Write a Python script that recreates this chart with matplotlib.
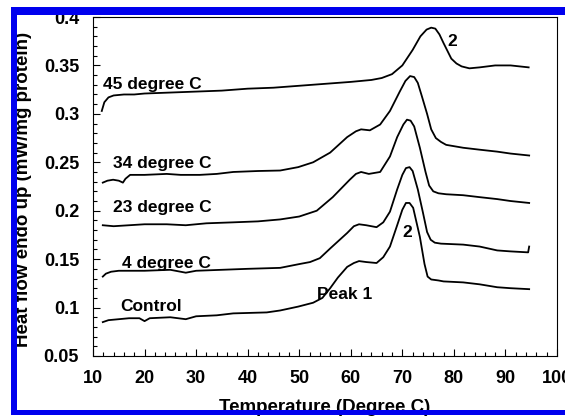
import matplotlib
matplotlib.use("Agg")
import matplotlib.pyplot as plt
from matplotlib.patches import Rectangle
from matplotlib.ticker import MultipleLocator

plt.rcParams['font.family'] = ['Liberation Sans', 'DejaVu Sans']
plt.rcParams['font.weight'] = 'bold'

# ---- data ----
x_45 = [11.7, 12.2, 13.0, 14.0, 16.0, 18.0, 20.0, 25.0, 30.0, 35.0, 40.0, 45.0, 50.0, 55.0, 60.0,
        64.0, 66.0, 68.0, 70.0, 72.0, 73.5, 74.7, 75.6, 76.4, 77.2, 78.0, 79.5, 80.5, 81.5, 83.0, 85.0,
        88.0, 91.0, 94.5]
y_45 = [0.303, 0.312, 0.317, 0.319, 0.320, 0.320, 0.321, 0.322, 0.323, 0.324, 0.326, 0.327, 0.329, 0.331, 0.333,
        0.335, 0.337, 0.341, 0.350, 0.366, 0.380, 0.387, 0.389, 0.388, 0.382, 0.373, 0.357, 0.352, 0.349, 0.347, 0.348,
        0.350, 0.350, 0.348]

x_34 = [11.9, 12.8, 13.9, 15.0, 15.8, 16.3, 17.2, 20.0, 24.3, 27.0, 30.7, 34.0, 37.2, 42.0, 46.3, 49.8,
        52.7, 56.0, 59.3, 61.0, 62.0, 63.7, 65.7, 67.6, 69.5, 70.6, 71.5, 72.3, 73.0, 73.8, 74.8, 75.6,
        76.5, 77.5, 78.5, 81.8, 85.0, 88.4, 91.0, 94.6]
y_34 = [0.229, 0.231, 0.232, 0.231, 0.229, 0.233, 0.237, 0.237, 0.238, 0.237, 0.237, 0.238, 0.240, 0.241, 0.2415, 0.245,
        0.250, 0.260, 0.276, 0.282, 0.284, 0.283, 0.289, 0.303, 0.323, 0.334, 0.339, 0.338, 0.332, 0.318, 0.300, 0.284,
        0.275, 0.271, 0.268, 0.265, 0.263, 0.261, 0.259, 0.257]

x_23 = [11.9, 14.0, 17.0, 20.0, 24.3, 28.0, 32.0, 37.2, 42.0, 46.3, 50.0, 53.4, 56.5, 59.8, 61.0, 62.0, 63.5,
        65.7, 67.6, 69.0, 70.2, 70.9, 71.6, 72.3, 73.4, 74.5, 75.2, 76.0, 77.0, 78.5, 81.8, 85.0, 88.4, 91.0, 94.6]
y_23 = [0.185, 0.184, 0.185, 0.186, 0.186, 0.185, 0.187, 0.188, 0.189, 0.191, 0.194, 0.200, 0.214, 0.232, 0.238, 0.240, 0.238,
        0.240, 0.256, 0.276, 0.289, 0.294, 0.293, 0.287, 0.265, 0.240, 0.226, 0.220, 0.218, 0.217, 0.216, 0.214, 0.212, 0.210, 0.208]

x_4 = [11.9, 12.5, 13.5, 15.0, 17.0, 20.0, 25.0, 28.0, 30.0, 35.0, 40.0, 46.3, 50.1, 52.1, 54.0, 56.0,
       59.3, 60.6, 61.6, 63.0, 65.0, 66.3, 67.6, 69.0, 70.0, 70.7, 71.4, 72.0, 73.0, 74.0, 74.8, 75.5, 76.3, 77.5,
       81.8, 85.0, 88.4, 91.0, 94.4, 94.6]
y_4 = [0.132, 0.135, 0.137, 0.138, 0.138, 0.138, 0.139, 0.136, 0.138, 0.139, 0.140, 0.141, 0.145, 0.147, 0.151, 0.161,
       0.177, 0.184, 0.186, 0.185, 0.183, 0.188, 0.199, 0.222, 0.237, 0.244, 0.245, 0.241, 0.222, 0.198, 0.178, 0.170, 0.167, 0.166,
       0.165, 0.163, 0.159, 0.158, 0.157, 0.163]

x_ctrl = [11.9, 13.0, 15.0, 17.0, 19.0, 20.0, 21.0, 25.0, 28.0, 30.0, 34.0, 37.2, 43.7, 46.3, 49.8, 52.7,
          54.5, 56.0, 57.5, 59.3, 60.6, 61.6, 63.0, 65.0, 66.3, 67.6, 69.0, 70.0, 70.7, 71.4, 72.1, 73.4, 74.3,
          74.9, 75.6, 77.0, 78.0, 81.8, 85.0, 88.4, 91.0, 94.6]
y_ctrl = [0.085, 0.087, 0.088, 0.089, 0.089, 0.086, 0.089, 0.090, 0.088, 0.091, 0.092, 0.094, 0.095, 0.097, 0.101, 0.105,
          0.110, 0.120, 0.131, 0.142, 0.146, 0.148, 0.147, 0.146, 0.152, 0.163, 0.185, 0.201, 0.208, 0.208, 0.203, 0.173, 0.145,
          0.132, 0.129, 0.128, 0.127, 0.126, 0.124, 0.121, 0.120, 0.119]

series = [(x_45, y_45), (x_34, y_34), (x_23, y_23), (x_4, y_4), (x_ctrl, y_ctrl)]
curve_labels = ["45 degree C", "34 degree C", "23 degree C", "4 degree C", "Control"]
label_x = [11.9, 13.9, 13.9, 15.6, 15.2]
label_y = [0.330, 0.249, 0.203, 0.145, 0.1006]

x_ticks = [10, 20, 30, 40, 50, 60, 70, 80, 90, 100]
y_ticks = [0.05, 0.1, 0.15, 0.2, 0.25, 0.3, 0.35, 0.4]
y_ticklabels = ["0.05", "0.1", "0.15", "0.2", "0.25", "0.3", "0.35", "0.4"]

# ---- figure ----
fig = plt.figure(figsize=(5.65, 4.16), dpi=100)
ax = fig.add_axes([93/565, 1-356/416, (557-93)/565, (356-17)/416])

for xs, ys in series:
    ax.plot(xs, ys, color='black', lw=1.3, solid_joinstyle='round')

for t, lx, ly in zip(curve_labels, label_x, label_y):
    ax.text(lx, ly, t, ha='left', va='center', fontsize=12.5, fontweight='bold')
ax.text(53.4, 0.113, "Peak 1", ha='left', va='center', fontsize=12.5, fontweight='bold')
ax.text(71.0, 0.178, "2", ha='center', va='center', fontsize=12.5, fontweight='bold')
ax.text(79.6, 0.375, "2", ha='center', va='center', fontsize=12.5, fontweight='bold')

ax.set_xlim(10, 100)
ax.set_ylim(0.05, 0.4)
ax.set_xticks(x_ticks)
ax.set_yticks(y_ticks)
ax.set_yticklabels(y_ticklabels)
ax.xaxis.set_minor_locator(MultipleLocator(2))
ax.yaxis.set_minor_locator(MultipleLocator(0.01))
ax.tick_params(which='both', direction='in', top=False, right=False, width=0.8)
ax.tick_params(which='major', length=5, labelsize=13, pad=10)
ax.tick_params(which='minor', length=3)
for lab in ax.get_xticklabels() + ax.get_yticklabels():
    lab.set_fontweight('bold')
for s in ax.spines.values():
    s.set_linewidth(0.8)

ax.set_xlabel("Temperature (Degree C)", fontsize=13.5, fontweight='bold')
ax.set_ylabel("Heat flow endo up (mW/mg protein)", fontsize=13.5, fontweight='bold')
ax.xaxis.set_label_coords(0.5, -0.128)
ax.yaxis.set_label_coords(-0.131, 0.49)

# blue frame
W, H = 565.0, 416.0
blue = '#0000ee'
def rect(x0, y0, x1, y1):
    fig.add_artist(Rectangle((x0/W, 1-y1/H), (x1-x0)/W, (y1-y0)/H, transform=fig.transFigure,
                             facecolor=blue, edgecolor='none', zorder=10))
rect(11, 7, 565, 15)
rect(11, 7, 17, 415)
rect(11, 410, 565, 415)

fig.savefig("out.png", dpi=100)
